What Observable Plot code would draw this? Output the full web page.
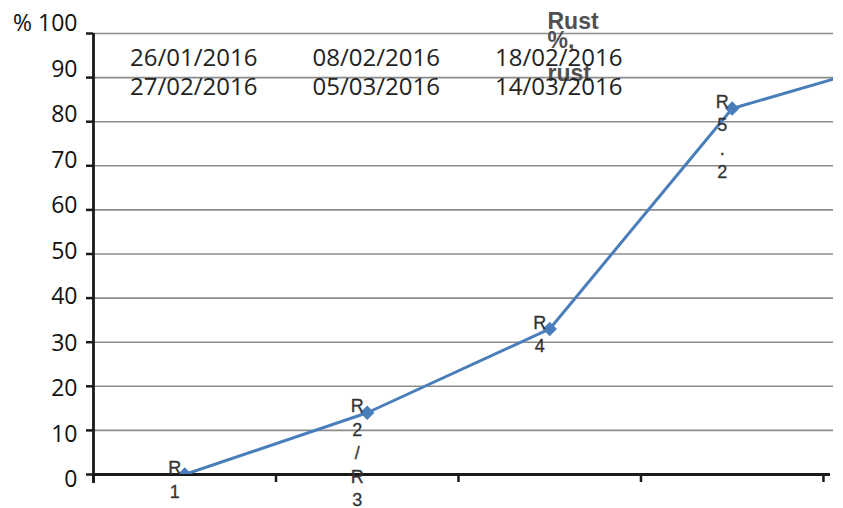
<!DOCTYPE html>
<html>
<head>
<meta charset="utf-8">
<script src="https://cdn.jsdelivr.net/npm/d3@7"></script>
<script src="https://cdn.jsdelivr.net/npm/@observablehq/plot@0.6"></script>
<style>
  html, body { margin: 0; padding: 0; background: #fff; overflow: hidden; }
</style>
</head>
<body>
<div id="chart"></div>
<script>
// ---- data ----
const categories = ["R1", "R2/R3", "R4", "R5.2", "R6"];
const rustPercent = [0, 14, 33, 83, 95];
const datesRow1 = ["26/01/2016", "08/02/2016", "18/02/2016"];
const datesRow2 = ["27/02/2016", "05/03/2016", "14/03/2016"];
const yTicks = [0, 10, 20, 30, 40, 50, 60, 70, 80, 90, 100];
const yTickLabels = ["0", "10", "20", "30", "40", "50", "60", "70", "80", "90", "% 100"];
const titleLines = ["Rust", "%,", "rust"];

// ---- build ----
const xMax = 4.055; // frame ends a little after the 4th category band
const points = categories.map((c, i) => ({
  cat: c,
  pos: i + 0.5,
  value: rustPercent[i],
  label: c.split("").join("\n")
}));
const visiblePoints = points.filter(d => d.pos < xMax);
const bandEdges = d3.range(0, 5);

const lineColor = "#4a7ebb";
const axisColor = "#1a1a1a";
const sans = "'Open Sans', Lato, sans-serif";

const yLabelMarks = yTicks.map((v, i) =>
  Plot.text([v], {
    y: d => d,
    text: () => yTickLabels[i],
    frameAnchor: "left",
    textAnchor: "end",
    lineAnchor: "middle",
    dx: -16,
    dy: Math.round(-10 + (100 - v) * 0.15),
    fontFamily: sans,
    fontSize: 23,
    fill: "#111"
  })
);

const titleDy = [-12, 7, 40];
const titleMarks = titleLines.map((t, i) =>
  Plot.text([t], {
    text: d => d,
    frameAnchor: "top",
    textAnchor: "start",
    lineAnchor: "middle",
    dx: 84,
    dy: titleDy[i],
    fontFamily: "'Liberation Sans', Arial, sans-serif",
    fontWeight: "bold",
    fontSize: 23,
    fill: "#505050"
  })
);

const chart = Plot.plot({
  width: 843,
  height: 508,
  marginLeft: 93,
  marginRight: 10,
  marginTop: 33,
  marginBottom: 34,
  style: { background: "#fff", overflow: "hidden" },
  x: { type: "linear", domain: [0, xMax], axis: null },
  y: { type: "linear", domain: [0, 100], axis: null },
  marks: [
    // gridlines
    Plot.ruleY(yTicks.filter(v => v > 0), { stroke: "#8c8c8c", strokeWidth: 1.6 }),
    // title (behind dates)
    ...titleMarks,
    // date rows
    Plot.text(datesRow1, {
      x: (d, i) => i + 0.5, text: d => d, frameAnchor: "top", lineAnchor: "middle",
      dx: 9, dy: 25, fontFamily: sans, fontSize: 24, fill: "#222"
    }),
    Plot.text(datesRow2, {
      x: (d, i) => i + 0.5, text: d => d, frameAnchor: "top", lineAnchor: "middle",
      dx: 9, dy: 54, fontFamily: sans, fontSize: 24, fill: "#222"
    }),
    // y tick marks
    Plot.ruleY(yTicks, { x1: 0, x2: 0, insetLeft: -7, stroke: axisColor, strokeWidth: 2.5 }),
    // x tick marks at band edges
    Plot.ruleX(bandEdges, { y1: 0, y2: 0, insetBottom: -8, stroke: axisColor, strokeWidth: 2.5 }),
    // axis lines
    Plot.ruleY([0], { stroke: axisColor, strokeWidth: 2.8, insetRight: 3 }),
    Plot.ruleX([0], { stroke: axisColor, strokeWidth: 2.8, insetBottom: -9 }),
    // y labels
    ...yLabelMarks,
    // series
    Plot.line(points, { x: "pos", y: "value", stroke: lineColor, strokeWidth: 3, clip: true }),
    Plot.dot(points, { x: "pos", y: "value", symbol: "diamond2", r: 6.5, fill: lineColor, stroke: "none", clip: true }),
    // data labels (one character per line)
    Plot.text(visiblePoints, {
      x: "pos", y: "value", text: "label",
      lineAnchor: "top", lineHeight: 1.3,
      dx: -10, dy: -17,
      fontFamily: "'Liberation Sans', Arial, sans-serif",
      fontSize: 18, fill: "#333",
      stroke: "#333", strokeWidth: 0.3
    })
  ]
});

document.getElementById("chart").appendChild(chart);
</script>
</body>
</html>
